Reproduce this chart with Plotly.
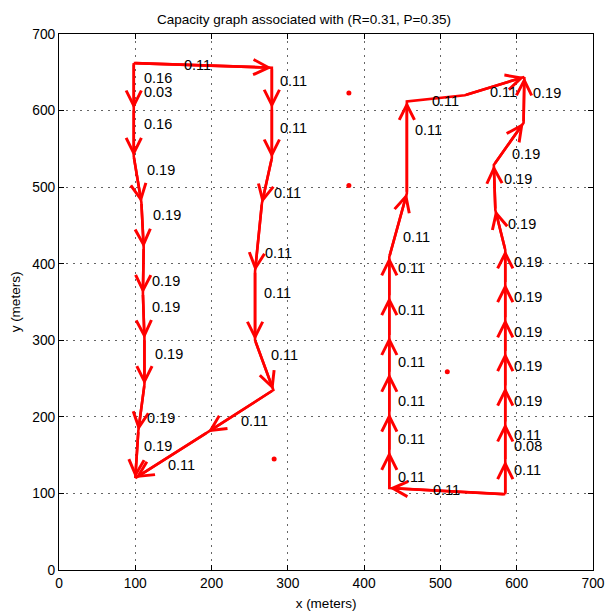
import plotly.graph_objects as go

# ---------------- data (metres) ----------------
# Left loop: source at the top-left node, sink at the bottom-left node
path_a_x = [98, 98, 98, 108, 111, 110, 112, 112, 104, 100]
path_a_y = [662, 602, 540, 480, 421, 361, 302, 242, 182, 120]
path_a_head = [0, 1, 1, 1, 1, 1, 1, 1, 1, 1]

path_b_x = [98, 279, 279, 279, 266, 257, 257, 281, 195, 100]
path_b_y = [662, 656, 603, 538, 479, 390, 300, 235, 180, 120]
path_b_head = [0, 1, 1, 1, 1, 1, 1, 1, 1, 1]

# Right loop: source at the bottom-right node, sink at the top-right node
path_c_x = [585, 433, 433, 433, 433, 433, 433, 433, 456, 456, 532, 610]
path_c_y = [99, 107, 155, 205, 257, 305, 357, 409, 492, 612, 620, 644]
path_c_head = [0, 1, 1, 1, 1, 1, 1, 1, 1, 1, 0, 1]

path_d_x = [585, 585, 585, 585, 585, 585, 585, 585, 572, 570, 609, 610]
path_d_y = [99, 143, 192, 239, 284, 328, 374, 418, 470, 529, 584, 644]
path_d_head = [0, 1, 1, 1, 1, 1, 1, 1, 1, 1, 1, 1]

# isolated nodes
dots_x = [380, 380, 509, 282]
dots_y = [623, 502, 259, 145]

# edge capacity labels (position = left edge / vertical centre of text)
label_text = ["0.11", "0.16", "0.03", "0.16", "0.19", "0.19", "0.19", "0.19", "0.19", "0.19",
              "0.19", "0.11", "0.11",
              "0.11", "0.11", "0.11", "0.11", "0.11", "0.11",
              "0.11", "0.11", "0.19", "0.11", "0.19", "0.19", "0.19", "0.11", "0.11",
              "0.19", "0.11", "0.19", "0.19", "0.11", "0.19", "0.11", "0.19", "0.11",
              "0.11", "0.08", "0.11", "0.11", "0.11"]
label_x = [163, 110, 110, 110, 114, 122, 121, 121, 124, 114,
           110, 142, 237,
           288, 288, 280, 269, 267, 277,
           488, 564, 620, 466, 593, 582, 587, 450, 443,
           595, 443, 595, 595, 443, 595, 443, 595, 443,
           595, 595, 443, 595, 489]
label_y = [659, 642, 624, 582, 522, 463, 378, 343, 282, 198,
           162, 137, 194,
           638, 577, 493, 414, 362, 281,
           612, 624, 623, 575, 543, 510, 452, 435, 395,
           402, 340, 357, 311, 271, 266, 221, 221, 171,
           176, 162, 121, 131, 104]

ticks = [0, 100, 200, 300, 400, 500, 600, 700]
title_text = "Capacity graph associated with (R=0.31, P=0.35)"
x_title = "x (meters)"
y_title = "y (meters)"

# ---------------- figure ----------------
FONT = "Liberation Sans, Arial, Helvetica, sans-serif"
RED = "#ff0000"
LW = 2.6

fig = go.Figure()

paths = [(path_a_x, path_a_y, path_a_head), (path_b_x, path_b_y, path_b_head),
         (path_c_x, path_c_y, path_c_head), (path_d_x, path_d_y, path_d_head)]

for px_, py_, heads in paths:
    fig.add_trace(go.Scatter(x=px_, y=py_, mode="lines",
                             line=dict(color=RED, width=LW),
                             hoverinfo="skip", showlegend=False))
    for i in range(1, len(px_)):
        if heads[i]:
            fig.add_annotation(x=px_[i], y=py_[i], ax=px_[i - 1], ay=py_[i - 1],
                               xref="x", yref="y", axref="x", ayref="y",
                               text="", showarrow=True, arrowhead=5, arrowsize=1.15,
                               arrowwidth=LW, arrowcolor=RED, standoff=0)

fig.add_trace(go.Scatter(x=dots_x, y=dots_y, mode="markers",
                         marker=dict(color=RED, size=5),
                         hoverinfo="skip", showlegend=False))

for t, lx, ly in zip(label_text, label_x, label_y):
    fig.add_annotation(x=lx, y=ly, xref="x", yref="y", text=t, showarrow=False,
                       xanchor="left", yanchor="middle", xshift=-1,
                       font=dict(size=14.5, color="black", family=FONT))

axis_common = dict(range=[0, 700], tickvals=ticks, ticktext=[str(v) for v in ticks],
                   showgrid=True, gridcolor="#666666", gridwidth=1, griddash="1.5px,5.5px",
                   showline=True, linecolor="black", linewidth=1, mirror="ticks",
                   ticks="inside", ticklen=5, tickcolor="black", tickwidth=1,
                   zeroline=False, automargin=False,
                   tickfont=dict(size=13.8, color="black", family=FONT))

fig.update_xaxes(**axis_common,
                 title=dict(text=x_title, standoff=8,
                            font=dict(size=13.5, color="black", family=FONT)))
fig.update_yaxes(**axis_common,
                 title=dict(text=y_title, standoff=8,
                            font=dict(size=13.5, color="black", family=FONT)))

fig.update_layout(
    width=608, height=611, autosize=False,
    margin=dict(l=59, r=15, t=34, b=41),
    paper_bgcolor="white", plot_bgcolor="white",
    showlegend=False,
    title=dict(text=title_text, x=0.5, xref="container", xanchor="center",
               y=1 - 19 / 611, yref="container", yanchor="middle",
               font=dict(size=13.5, color="black", family=FONT)),
)

fig.write_html("out.html")
